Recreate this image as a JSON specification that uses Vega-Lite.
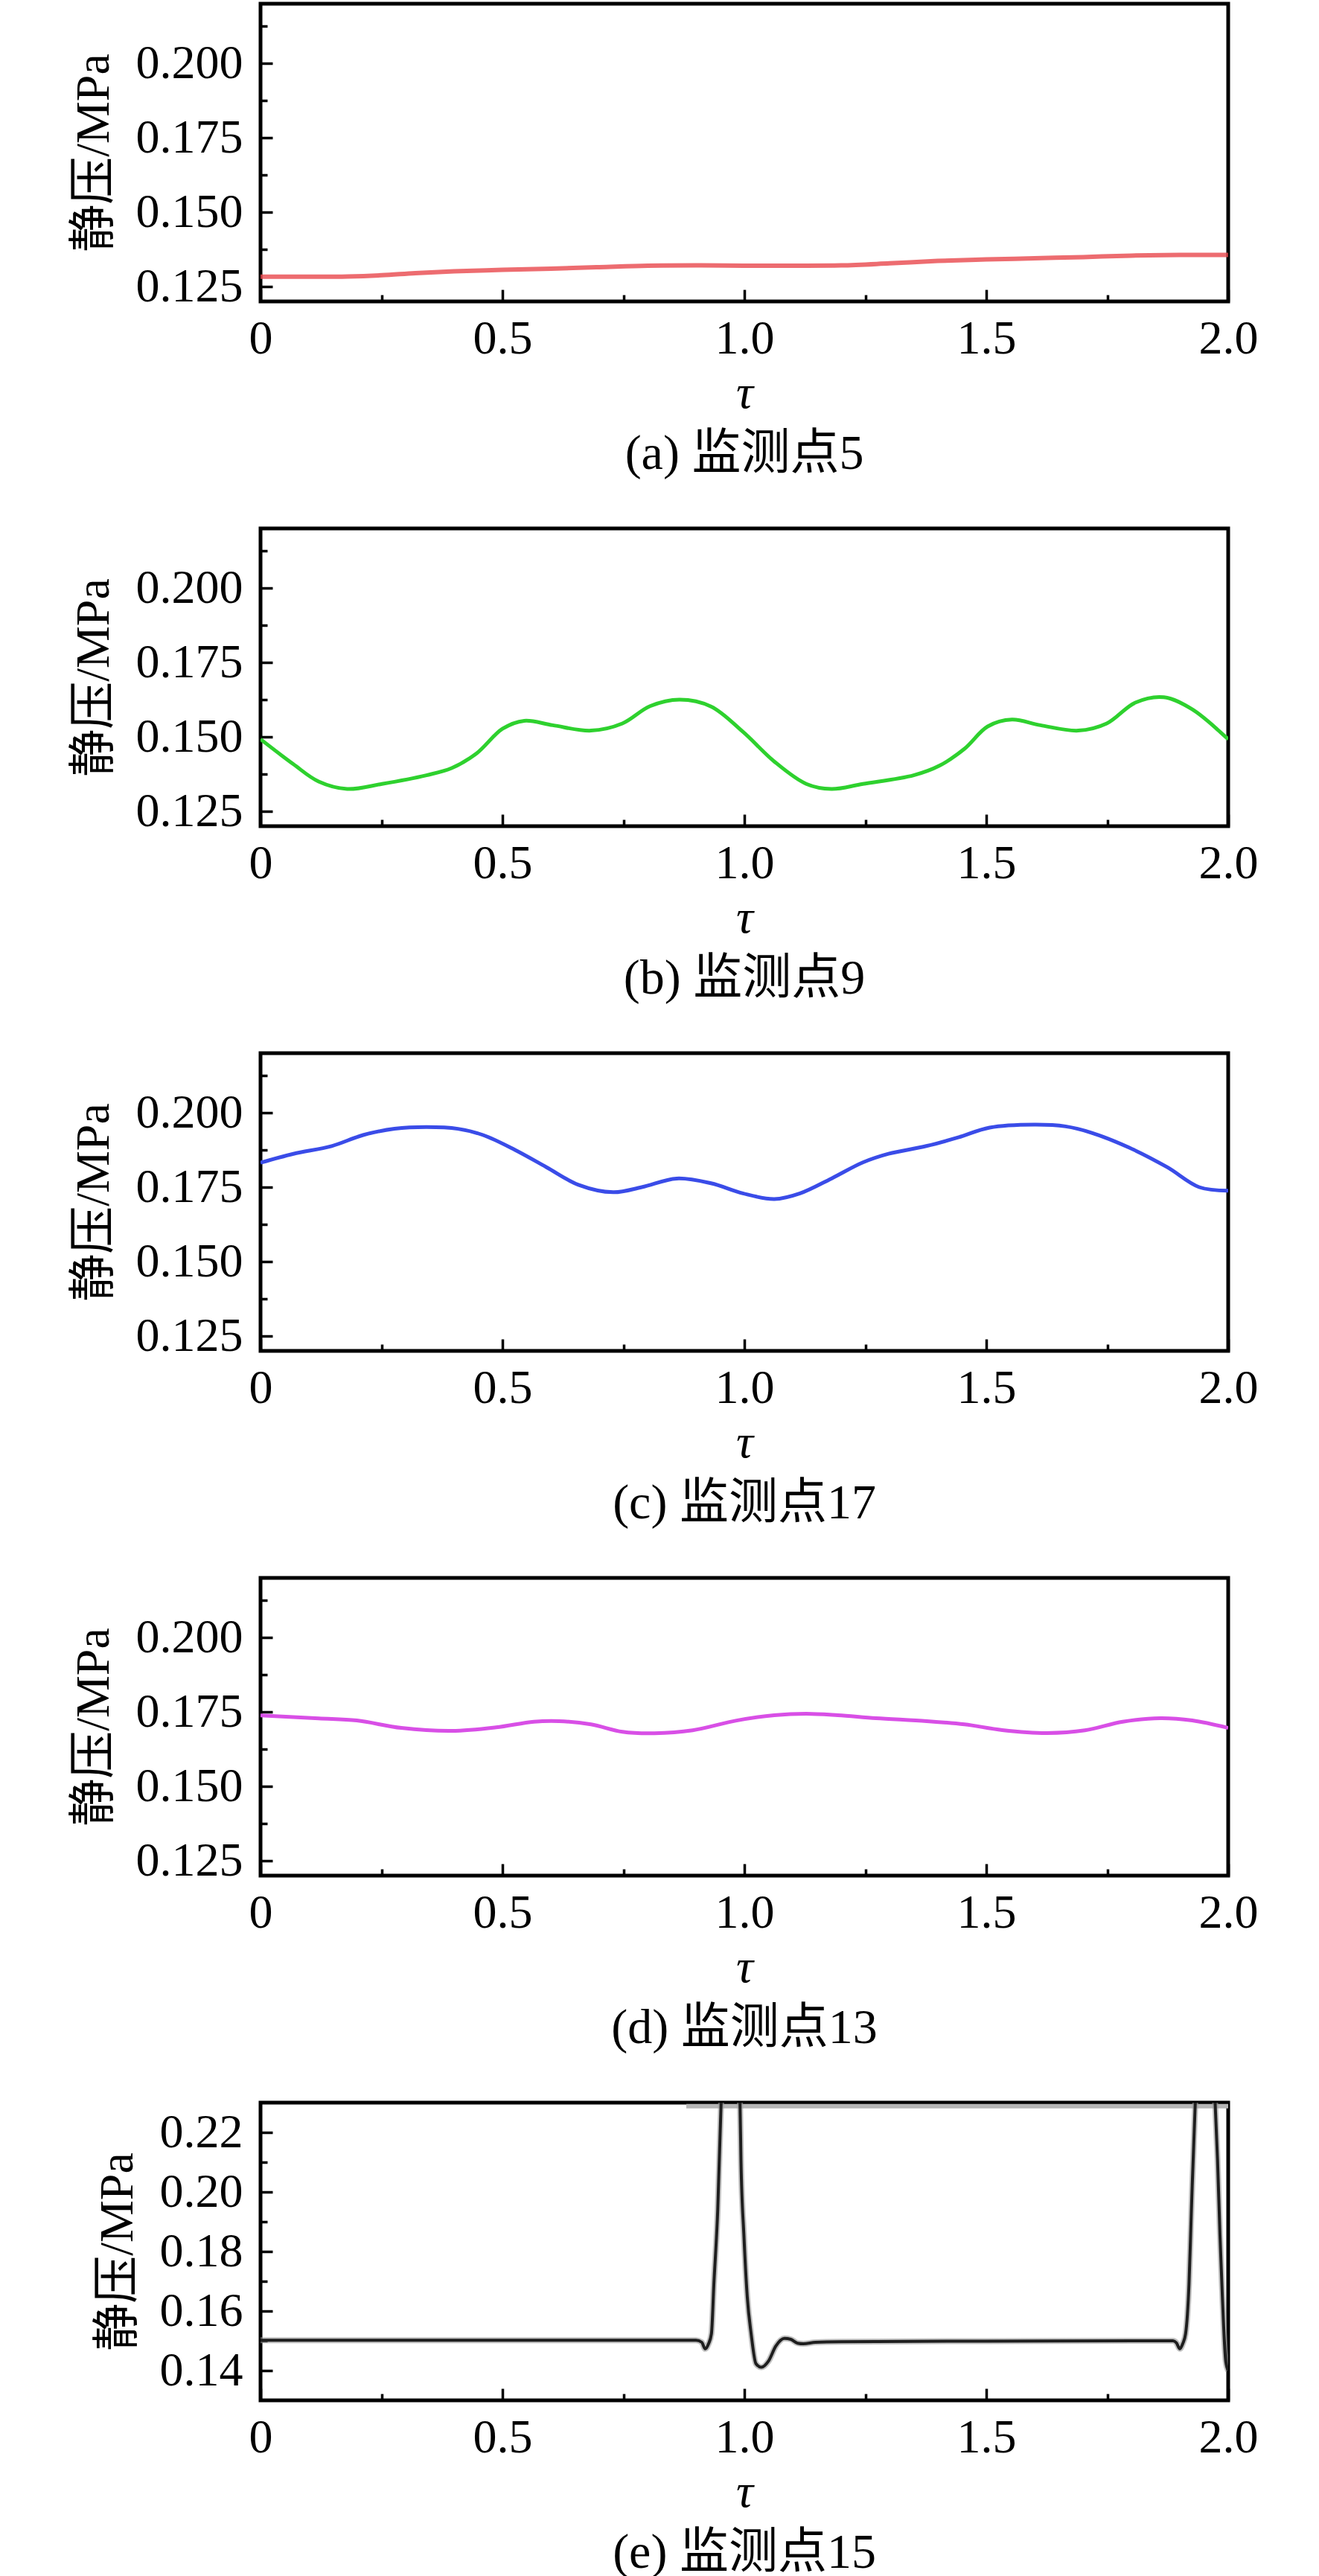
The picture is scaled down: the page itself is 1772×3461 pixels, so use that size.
{
  "$schema": "https://vega.github.io/schema/vega-lite/v6.json",
  "padding": {"left": 91, "top": 0, "right": 10, "bottom": 10},
  "background": "white",
  "bounds": "flush",
  "spacing": 305,
  "datasets": {
    "a": [
      {"tau": 0, "p": 0.1283}, {"tau": 0.1, "p": 0.1283}, {"tau": 0.18, "p": 0.1284},
      {"tau": 0.25, "p": 0.1288}, {"tau": 0.32, "p": 0.1295}, {"tau": 0.4, "p": 0.1301},
      {"tau": 0.5, "p": 0.1306}, {"tau": 0.6, "p": 0.131}, {"tau": 0.7, "p": 0.1315},
      {"tau": 0.8, "p": 0.132}, {"tau": 0.9, "p": 0.1321}, {"tau": 1.0, "p": 0.132},
      {"tau": 1.1, "p": 0.132}, {"tau": 1.2, "p": 0.1321}, {"tau": 1.3, "p": 0.1328},
      {"tau": 1.4, "p": 0.1336}, {"tau": 1.5, "p": 0.1341}, {"tau": 1.6, "p": 0.1345},
      {"tau": 1.7, "p": 0.1349}, {"tau": 1.8, "p": 0.1354}, {"tau": 1.9, "p": 0.1356},
      {"tau": 2.0, "p": 0.1356}
    ],
    "b": [
      {"tau": 0, "p": 0.1492}, {"tau": 0.068, "p": 0.1408}, {"tau": 0.12, "p": 0.135},
      {"tau": 0.179, "p": 0.1325}, {"tau": 0.251, "p": 0.1342}, {"tau": 0.343, "p": 0.1371},
      {"tau": 0.395, "p": 0.1395}, {"tau": 0.447, "p": 0.1445}, {"tau": 0.5, "p": 0.1527},
      {"tau": 0.545, "p": 0.1554}, {"tau": 0.604, "p": 0.1539}, {"tau": 0.683, "p": 0.1521},
      {"tau": 0.748, "p": 0.1545}, {"tau": 0.805, "p": 0.1603}, {"tau": 0.866, "p": 0.1625},
      {"tau": 0.931, "p": 0.1602}, {"tau": 0.997, "p": 0.1517}, {"tau": 1.062, "p": 0.1417},
      {"tau": 1.128, "p": 0.1342}, {"tau": 1.18, "p": 0.1325}, {"tau": 1.245, "p": 0.1342},
      {"tau": 1.35, "p": 0.1371}, {"tau": 1.403, "p": 0.1403}, {"tau": 1.455, "p": 0.146},
      {"tau": 1.503, "p": 0.1535}, {"tau": 1.553, "p": 0.1558}, {"tau": 1.612, "p": 0.1539},
      {"tau": 1.69, "p": 0.1521}, {"tau": 1.749, "p": 0.1545}, {"tau": 1.808, "p": 0.1615},
      {"tau": 1.867, "p": 0.1633}, {"tau": 1.926, "p": 0.1592}, {"tau": 2.0, "p": 0.1492}
    ],
    "c": [
      {"tau": 0, "p": 0.1832}, {"tau": 0.068, "p": 0.1862}, {"tau": 0.147, "p": 0.1888},
      {"tau": 0.212, "p": 0.1925}, {"tau": 0.277, "p": 0.1946}, {"tau": 0.343, "p": 0.1952},
      {"tau": 0.408, "p": 0.1946}, {"tau": 0.46, "p": 0.1925}, {"tau": 0.526, "p": 0.1875},
      {"tau": 0.591, "p": 0.1817}, {"tau": 0.657, "p": 0.1758}, {"tau": 0.729, "p": 0.1733},
      {"tau": 0.788, "p": 0.175}, {"tau": 0.86, "p": 0.1779}, {"tau": 0.931, "p": 0.1763},
      {"tau": 0.997, "p": 0.1729}, {"tau": 1.062, "p": 0.171}, {"tau": 1.115, "p": 0.1729},
      {"tau": 1.18, "p": 0.1779}, {"tau": 1.245, "p": 0.1833}, {"tau": 1.298, "p": 0.1862},
      {"tau": 1.376, "p": 0.1888}, {"tau": 1.442, "p": 0.1917}, {"tau": 1.507, "p": 0.195},
      {"tau": 1.599, "p": 0.196}, {"tau": 1.664, "p": 0.1954}, {"tau": 1.717, "p": 0.1933},
      {"tau": 1.795, "p": 0.1883}, {"tau": 1.874, "p": 0.1817}, {"tau": 1.94, "p": 0.175},
      {"tau": 2.0, "p": 0.1738}
    ],
    "d": [
      {"tau": 0, "p": 0.1738}, {"tau": 0.12, "p": 0.1728}, {"tau": 0.199, "p": 0.1721},
      {"tau": 0.291, "p": 0.1696}, {"tau": 0.395, "p": 0.1686}, {"tau": 0.487, "p": 0.1698},
      {"tau": 0.565, "p": 0.1717}, {"tau": 0.617, "p": 0.1719}, {"tau": 0.683, "p": 0.1708},
      {"tau": 0.748, "p": 0.1683}, {"tau": 0.814, "p": 0.1678}, {"tau": 0.893, "p": 0.1688},
      {"tau": 0.984, "p": 0.1721}, {"tau": 1.062, "p": 0.1739}, {"tau": 1.128, "p": 0.1744},
      {"tau": 1.193, "p": 0.1739}, {"tau": 1.272, "p": 0.1729}, {"tau": 1.377, "p": 0.1719},
      {"tau": 1.455, "p": 0.1708}, {"tau": 1.533, "p": 0.1689}, {"tau": 1.625, "p": 0.1679},
      {"tau": 1.704, "p": 0.1688}, {"tau": 1.782, "p": 0.1717}, {"tau": 1.86, "p": 0.1729},
      {"tau": 1.926, "p": 0.1721}, {"tau": 2.0, "p": 0.1696}
    ],
    "e": [
      {"tau": 0, "p": 0.1502}, {"tau": 0.5, "p": 0.1502}, {"tau": 0.9, "p": 0.1502},
      {"tau": 0.912, "p": 0.1495}, {"tau": 0.919, "p": 0.1473}, {"tau": 0.926, "p": 0.149},
      {"tau": 0.932, "p": 0.1524}, {"tau": 0.937, "p": 0.169}, {"tau": 0.945, "p": 0.194},
      {"tau": 0.952, "p": 0.23}, {"tau": 0.96, "p": 0.25}, {"tau": 0.971, "p": 0.262},
      {"tau": 0.982, "p": 0.25}, {"tau": 0.991, "p": 0.23}, {"tau": 0.993, "p": 0.2107},
      {"tau": 0.999, "p": 0.1857}, {"tau": 1.006, "p": 0.1648}, {"tau": 1.014, "p": 0.1524},
      {"tau": 1.024, "p": 0.1423}, {"tau": 1.035, "p": 0.1411}, {"tau": 1.05, "p": 0.1432},
      {"tau": 1.065, "p": 0.1482}, {"tau": 1.083, "p": 0.1508}, {"tau": 1.096, "p": 0.1505},
      {"tau": 1.11, "p": 0.1492}, {"tau": 1.122, "p": 0.149}, {"tau": 1.147, "p": 0.1495},
      {"tau": 1.2, "p": 0.1497}, {"tau": 1.5, "p": 0.1499}, {"tau": 1.886, "p": 0.15},
      {"tau": 1.893, "p": 0.1493}, {"tau": 1.9, "p": 0.1473}, {"tau": 1.906, "p": 0.149},
      {"tau": 1.912, "p": 0.1524}, {"tau": 1.919, "p": 0.169}, {"tau": 1.924, "p": 0.194},
      {"tau": 1.932, "p": 0.23}, {"tau": 1.942, "p": 0.25}, {"tau": 1.952, "p": 0.26},
      {"tau": 1.963, "p": 0.25}, {"tau": 1.973, "p": 0.23}, {"tau": 1.978, "p": 0.2107},
      {"tau": 1.983, "p": 0.1857}, {"tau": 1.988, "p": 0.1648}, {"tau": 1.995, "p": 0.143},
      {"tau": 2.0, "p": 0.14}
    ],
    "e_band": [{"tau": 0.88, "tau2": 2.0, "p": 0.2288}]
  },
  "vconcat": [
    {
      "width": 1300, "height": 400,
      "data": {"name": "a"},
      "title": {"text": "(a) 监测点5", "orient": "bottom", "anchor": "middle", "frame": "group", "baseline": "top", "offset": 18},
      "mark": {"type": "line", "interpolate": "catmull-rom", "color": "#e8474c", "strokeWidth": 6, "opacity": 0.8, "clip": true},
      "encoding": {
        "x": {"field": "tau", "type": "quantitative", "scale": {"domain": [0, 2], "nice": false},
          "axis": {"title": "τ", "values": [0, 0.25, 0.5, 0.75, 1, 1.25, 1.5, 1.75, 2],
            "labelExpr": "abs(datum.value*2 - round(datum.value*2)) < 0.01 ? (datum.value == 0 ? '0' : format(datum.value, '.1f')) : ''",
            "tickSize": {"condition": {"test": "abs(datum.value*2 - round(datum.value*2)) > 0.01", "value": -9}, "value": -16},
            "labelPadding": 34, "titleFontStyle": "italic", "titlePadding": 2}},
        "y": {"field": "p", "type": "quantitative", "scale": {"domain": [0.12, 0.22], "nice": false, "zero": false},
          "axis": {"title": "静压/MPa", "values": [0.125, 0.1375, 0.15, 0.1625, 0.175, 0.1875, 0.2, 0.2125],
            "labelExpr": "abs(datum.value*40 - round(datum.value*40)) < 0.01 ? format(datum.value, '.3f') : ''",
            "tickSize": {"condition": {"test": "abs(datum.value*40 - round(datum.value*40)) > 0.01", "value": -9}, "value": -16},
            "labelPadding": 40, "titlePadding": 24}}
      }
    },
    {
      "width": 1300, "height": 400,
      "data": {"name": "b"},
      "title": {"text": "(b) 监测点9", "orient": "bottom", "anchor": "middle", "frame": "group", "baseline": "top", "offset": 18},
      "mark": {"type": "line", "interpolate": "catmull-rom", "color": "#2ed12e", "strokeWidth": 5, "clip": true},
      "encoding": {
        "x": {"field": "tau", "type": "quantitative", "scale": {"domain": [0, 2], "nice": false},
          "axis": {"title": "τ", "values": [0, 0.25, 0.5, 0.75, 1, 1.25, 1.5, 1.75, 2],
            "labelExpr": "abs(datum.value*2 - round(datum.value*2)) < 0.01 ? (datum.value == 0 ? '0' : format(datum.value, '.1f')) : ''",
            "tickSize": {"condition": {"test": "abs(datum.value*2 - round(datum.value*2)) > 0.01", "value": -9}, "value": -16},
            "labelPadding": 34, "titleFontStyle": "italic", "titlePadding": 2}},
        "y": {"field": "p", "type": "quantitative", "scale": {"domain": [0.12, 0.22], "nice": false, "zero": false},
          "axis": {"title": "静压/MPa", "values": [0.125, 0.1375, 0.15, 0.1625, 0.175, 0.1875, 0.2, 0.2125],
            "labelExpr": "abs(datum.value*40 - round(datum.value*40)) < 0.01 ? format(datum.value, '.3f') : ''",
            "tickSize": {"condition": {"test": "abs(datum.value*40 - round(datum.value*40)) > 0.01", "value": -9}, "value": -16},
            "labelPadding": 40, "titlePadding": 24}}
      }
    },
    {
      "width": 1300, "height": 400,
      "data": {"name": "c"},
      "title": {"text": "(c) 监测点17", "orient": "bottom", "anchor": "middle", "frame": "group", "baseline": "top", "offset": 18},
      "mark": {"type": "line", "interpolate": "catmull-rom", "color": "#3a4ce8", "strokeWidth": 5, "clip": true},
      "encoding": {
        "x": {"field": "tau", "type": "quantitative", "scale": {"domain": [0, 2], "nice": false},
          "axis": {"title": "τ", "values": [0, 0.25, 0.5, 0.75, 1, 1.25, 1.5, 1.75, 2],
            "labelExpr": "abs(datum.value*2 - round(datum.value*2)) < 0.01 ? (datum.value == 0 ? '0' : format(datum.value, '.1f')) : ''",
            "tickSize": {"condition": {"test": "abs(datum.value*2 - round(datum.value*2)) > 0.01", "value": -9}, "value": -16},
            "labelPadding": 34, "titleFontStyle": "italic", "titlePadding": 2}},
        "y": {"field": "p", "type": "quantitative", "scale": {"domain": [0.12, 0.22], "nice": false, "zero": false},
          "axis": {"title": "静压/MPa", "values": [0.125, 0.1375, 0.15, 0.1625, 0.175, 0.1875, 0.2, 0.2125],
            "labelExpr": "abs(datum.value*40 - round(datum.value*40)) < 0.01 ? format(datum.value, '.3f') : ''",
            "tickSize": {"condition": {"test": "abs(datum.value*40 - round(datum.value*40)) > 0.01", "value": -9}, "value": -16},
            "labelPadding": 40, "titlePadding": 24}}
      }
    },
    {
      "width": 1300, "height": 400,
      "data": {"name": "d"},
      "title": {"text": "(d) 监测点13", "orient": "bottom", "anchor": "middle", "frame": "group", "baseline": "top", "offset": 18},
      "mark": {"type": "line", "interpolate": "catmull-rom", "color": "#d84fe6", "strokeWidth": 5, "clip": true},
      "encoding": {
        "x": {"field": "tau", "type": "quantitative", "scale": {"domain": [0, 2], "nice": false},
          "axis": {"title": "τ", "values": [0, 0.25, 0.5, 0.75, 1, 1.25, 1.5, 1.75, 2],
            "labelExpr": "abs(datum.value*2 - round(datum.value*2)) < 0.01 ? (datum.value == 0 ? '0' : format(datum.value, '.1f')) : ''",
            "tickSize": {"condition": {"test": "abs(datum.value*2 - round(datum.value*2)) > 0.01", "value": -9}, "value": -16},
            "labelPadding": 34, "titleFontStyle": "italic", "titlePadding": 2}},
        "y": {"field": "p", "type": "quantitative", "scale": {"domain": [0.12, 0.22], "nice": false, "zero": false},
          "axis": {"title": "静压/MPa", "values": [0.125, 0.1375, 0.15, 0.1625, 0.175, 0.1875, 0.2, 0.2125],
            "labelExpr": "abs(datum.value*40 - round(datum.value*40)) < 0.01 ? format(datum.value, '.3f') : ''",
            "tickSize": {"condition": {"test": "abs(datum.value*40 - round(datum.value*40)) > 0.01", "value": -9}, "value": -16},
            "labelPadding": 40, "titlePadding": 24}}
      }
    },
    {
      "width": 1300, "height": 400,
      "title": {"text": "(e) 监测点15", "orient": "bottom", "anchor": "middle", "frame": "group", "baseline": "top", "offset": 18},
      "encoding": {
        "x": {"field": "tau", "type": "quantitative", "scale": {"domain": [0, 2], "nice": false},
          "axis": {"title": "τ", "values": [0, 0.25, 0.5, 0.75, 1, 1.25, 1.5, 1.75, 2],
            "labelExpr": "abs(datum.value*2 - round(datum.value*2)) < 0.01 ? (datum.value == 0 ? '0' : format(datum.value, '.1f')) : ''",
            "tickSize": {"condition": {"test": "abs(datum.value*2 - round(datum.value*2)) > 0.01", "value": -9}, "value": -16},
            "labelPadding": 34, "titleFontStyle": "italic", "titlePadding": 2}},
        "y": {"field": "p", "type": "quantitative", "scale": {"domain": [0.13, 0.23], "nice": false, "zero": false},
          "axis": {"title": "静压/MPa", "values": [0.14, 0.15, 0.16, 0.17, 0.18, 0.19, 0.2, 0.21, 0.22],
            "labelExpr": "abs(datum.value*50 - round(datum.value*50)) < 0.01 ? format(datum.value, '.2f') : ''",
            "tickSize": {"condition": {"test": "abs(datum.value*50 - round(datum.value*50)) > 0.01", "value": -9}, "value": -16},
            "labelPadding": 40, "titlePadding": 24}}
      },
      "layer": [
        {
          "data": {"name": "e_band"},
          "mark": {"type": "rule", "color": "#b5b5b5", "strokeWidth": 6, "clip": true},
          "encoding": {"x2": {"field": "tau2"}}
        },
        {
          "data": {"name": "e"},
          "mark": {"type": "line", "interpolate": "monotone", "color": "#9a9a9a", "strokeWidth": 8, "opacity": 0.6, "clip": true}
        },
        {
          "data": {"name": "e"},
          "mark": {"type": "line", "interpolate": "monotone", "color": "#1e1e1e", "strokeWidth": 4, "clip": true}
        }
      ]
    }
  ],
  "config": {
    "view": {"stroke": "black", "strokeWidth": 5},
    "axis": {
      "grid": false, "domain": false,
      "labelFont": "Liberation Serif", "labelFontSize": 64, "labelColor": "black",
      "labelFlush": false, "labelOverlap": false,
      "tickColor": "black", "tickWidth": 3.5,
      "titleFont": "'Liberation Serif', 'Noto Sans CJK SC'", "titleFontSize": 64,
      "titleFontWeight": "normal", "titleColor": "black"
    },
    "title": {"font": "'Liberation Serif', 'Noto Sans CJK SC'", "fontSize": 66, "fontWeight": "normal", "color": "black"}
  }
}
